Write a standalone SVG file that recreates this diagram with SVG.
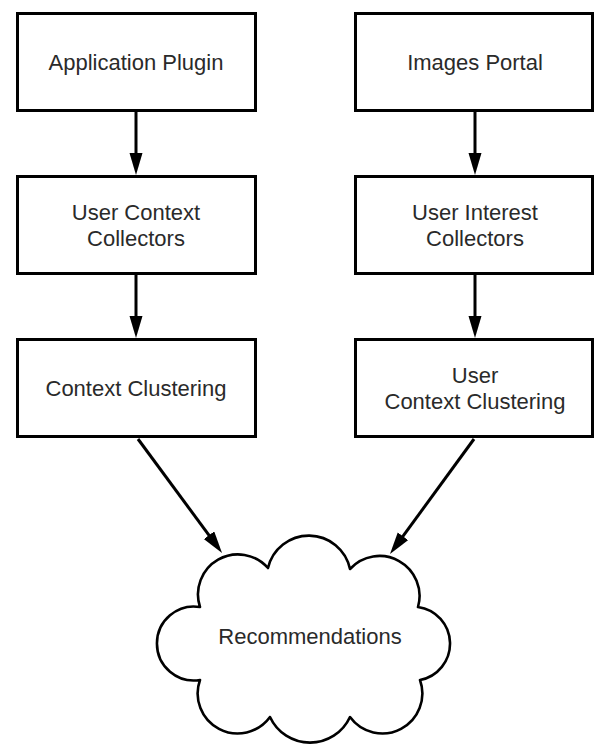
<svg xmlns="http://www.w3.org/2000/svg" width="594" height="746" viewBox="0 0 594 746">
<style>
.box{fill:#fff;stroke:#000;stroke-width:3}
.lbl{font-family:"Liberation Sans",Arial,sans-serif;font-size:22px;fill:#2a2a2a;text-anchor:middle}
.edge{stroke:#000;stroke-width:3;fill:none}
.cloud{fill:#fff;stroke:#000;stroke-width:2.6;stroke-linejoin:round}
</style>
<defs>
<marker id="arr" markerUnits="userSpaceOnUse" markerWidth="24" markerHeight="16" refX="12" refY="6.5" orient="auto">
<path d="M0,0 L22,6.5 L0,13 z" fill="#000"/>
</marker>
</defs>
<g id="connectors">
<line class="edge" x1="136" y1="112" x2="136" y2="165" marker-end="url(#arr)"/>
<line class="edge" x1="136" y1="275" x2="136" y2="328" marker-end="url(#arr)"/>
<line class="edge" x1="475" y1="112" x2="475" y2="165" marker-end="url(#arr)"/>
<line class="edge" x1="475" y1="275" x2="475" y2="328" marker-end="url(#arr)"/>
<line class="edge" x1="138" y1="439" x2="216.1" y2="544.9" marker-end="url(#arr)"/>
<line class="edge" x1="474" y1="439" x2="395.9" y2="545.9" marker-end="url(#arr)"/>
</g>
<g id="app-plugin">
<rect class="box" x="17.5" y="13.5" width="238" height="97"/>
<text class="lbl" x="136" y="70">Application Plugin</text>
</g>
<g id="user-context-collectors">
<rect class="box" x="17.5" y="176.5" width="238" height="97"/>
<text class="lbl" x="136" y="220">User Context</text>
<text class="lbl" x="136" y="246">Collectors</text>
</g>
<g id="context-clustering">
<rect class="box" x="17.5" y="339.5" width="238" height="97"/>
<text class="lbl" x="136" y="396">Context Clustering</text>
</g>
<g id="images-portal">
<rect class="box" x="355.5" y="13.5" width="237" height="97"/>
<text class="lbl" x="475" y="70">Images Portal</text>
</g>
<g id="user-interest-collectors">
<rect class="box" x="355.5" y="176.5" width="237" height="97"/>
<text class="lbl" x="475" y="220">User Interest</text>
<text class="lbl" x="475" y="246">Collectors</text>
</g>
<g id="user-context-clustering">
<rect class="box" x="355.5" y="339.5" width="237" height="97"/>
<text class="lbl" x="475" y="383">User</text>
<text class="lbl" x="475" y="409">Context Clustering</text>
</g>
<g id="recommendations">
<path class="cloud" d="M200,607 A40,40 0 0 1 268,568 A42,42 0 0 1 350,569 A40,40 0 0 1 418,607 A37,37 0 0 1 420,680 A40,40 0 0 1 350,717 A44,44 0 0 1 270,717 A40,40 0 0 1 200,680 A37,37 0 1 1 200,607 Z"/>
<text class="lbl" x="310" y="644">Recommendations</text>
</g>
</svg>
